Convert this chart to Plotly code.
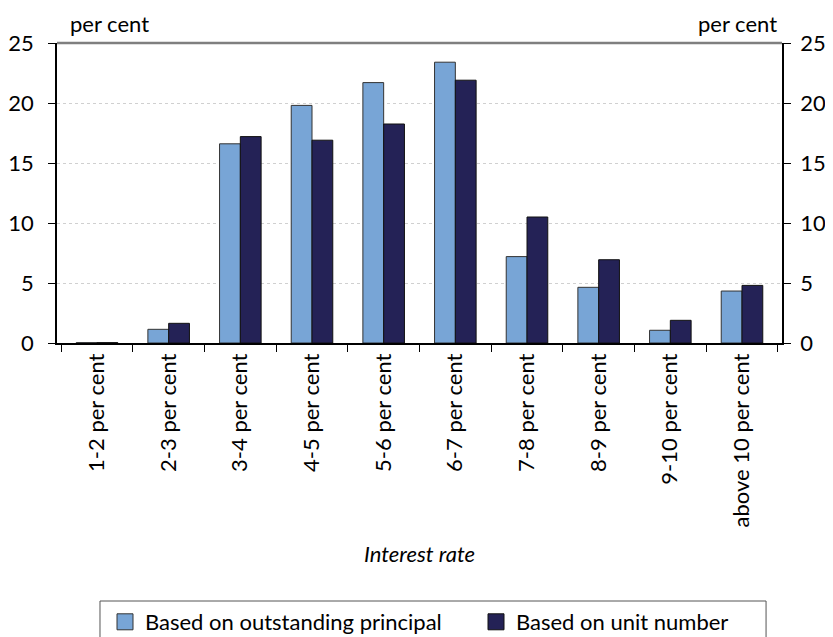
import plotly.graph_objects as go

categories = ["1-2 per cent", "2-3 per cent", "3-4 per cent", "4-5 per cent", "5-6 per cent",
              "6-7 per cent", "7-8 per cent", "8-9 per cent", "9-10 per cent", "above 10 per cent"]
principal = [0.03, 1.14, 16.6, 19.8, 21.7, 23.4, 7.2, 4.64, 1.06, 4.33]
units = [0.03, 1.64, 17.2, 16.9, 18.25, 21.9, 10.5, 6.94, 1.89, 4.8]
series_names = ["Based on outstanding principal", "Based on unit number"]
yticks = [0, 5, 10, 15, 20, 25]

FONT = "Lato"
FS = 22
W, H = 825, 629
C1, C2 = "#78A5D6", "#242256"
fig = go.Figure()
fig.add_trace(go.Bar(x=categories, y=principal, name=series_names[0], showlegend=False,
                     marker=dict(color=C1, line=dict(color="#333333", width=1))))
fig.add_trace(go.Bar(x=categories, y=units, name=series_names[1], showlegend=False,
                     marker=dict(color=C2, line=dict(color="#111111", width=1))))
fig.add_trace(go.Scatter(x=categories, y=units, yaxis="y2", mode="markers",
                         marker=dict(opacity=0), showlegend=False, hoverinfo="skip"))
# legend entries (square swatches)
fig.add_trace(go.Scatter(x=[None], y=[None], mode="markers", name=series_names[0],
                         legend="legend",
                         marker=dict(symbol="square", size=16, color=C1,
                                     line=dict(color="#333333", width=1))))
fig.add_trace(go.Scatter(x=[None], y=[None], mode="markers", name=series_names[1],
                         legend="legend2",
                         marker=dict(symbol="square", size=16, color=C2,
                                     line=dict(color="#111111", width=1))))

leg_common = dict(orientation="h", xref="container", xanchor="left", y=-0.93, yanchor="middle",
                  font=dict(size=FS), bgcolor="rgba(0,0,0,0)", itemwidth=30)

fig.update_layout(
    width=W, height=H,
    margin=dict(l=49, r=51, t=35, b=294, autoexpand=False),
    plot_bgcolor="white", paper_bgcolor="white",
    font=dict(family=FONT, size=FS, color="black"),
    barmode="group", bargap=0.42, bargroupgap=0,
    xaxis=dict(type="category", tickangle=-90, tickson="boundaries", ticks="outside",
               ticklen=7, tickcolor="black", showline=True, linecolor="black", linewidth=1.5,
               tickfont=dict(size=FS), showgrid=False, automargin=False),
    yaxis=dict(range=[0, 25], tickvals=yticks, ticks="outside", ticklen=7, tickcolor="black",
               showline=True, linecolor="black", linewidth=1.5, tickfont=dict(size=FS),
               ticklabelstandoff=10,
               showgrid=True, gridcolor="#d0d0d0", griddash="dot", gridwidth=1, zeroline=False,
               automargin=False),
    yaxis2=dict(range=[0, 25], tickvals=yticks, overlaying="y", side="right", ticks="outside",
                ticklen=7, tickcolor="black", showline=True, linecolor="black", linewidth=1.5,
                tickfont=dict(size=FS), ticklabelstandoff=5,
                showgrid=False, zeroline=False, automargin=False),
    legend=dict(x=97 / W, **leg_common),
    legend2=dict(x=468 / W, **leg_common),
    showlegend=True,
)

fig.add_shape(type="line", xref="paper", yref="paper", x0=0, x1=1, y0=1, y1=1,
              line=dict(color="#7f7f7f", width=2.5))
fig.add_shape(type="rect", xref="paper", yref="paper", x0=0.0593, x1=0.978, y0=-0.86, y1=-1.05,
              line=dict(color="#555555", width=1))

fig.add_annotation(text="per cent", xref="paper", yref="paper", x=0.015, y=1.012,
                   xanchor="left", yanchor="bottom", showarrow=False, font=dict(size=FS))
fig.add_annotation(text="per cent", xref="paper", yref="paper", x=0.996, y=1.012,
                   xanchor="right", yanchor="bottom", showarrow=False, font=dict(size=FS))
fig.add_annotation(text="<i>Interest rate</i>", xref="paper", yref="paper", x=0.5, y=-0.7,
                   xanchor="center", yanchor="middle", showarrow=False, font=dict(size=FS))

fig.write_html("out.html")
